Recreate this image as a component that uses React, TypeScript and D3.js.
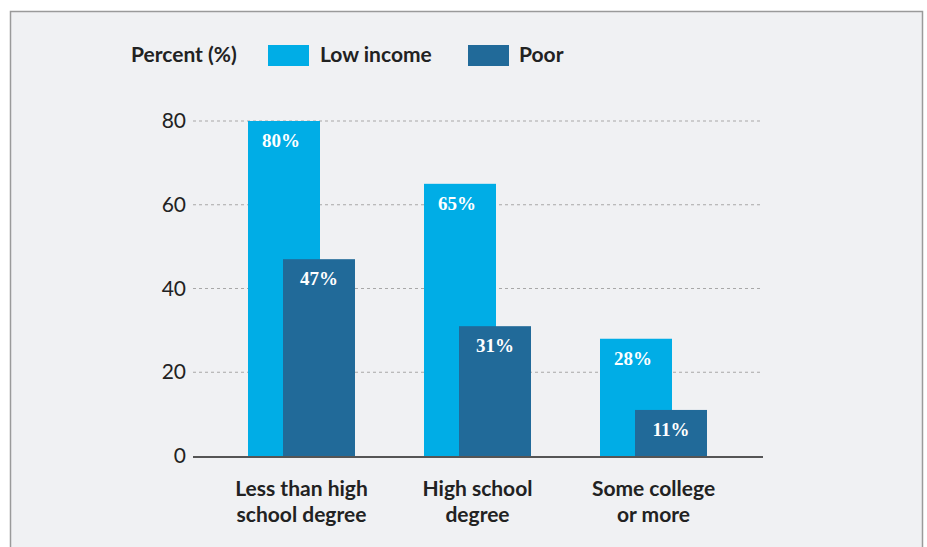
import React from "react";
import * as d3 from "d3";

const categories = [["Less than high", "school degree"], ["High school", "degree"], ["Some college", "or more"]];
const lowIncome = [80, 65, 28];
const poor = [47, 31, 11];
const yTicks = [0, 20, 40, 60, 80];
const seriesNames = ["Low income", "Poor"];

const W = 927;
const H = 547;
const LOW = "#00ADE6";
const POOR = "#216A99";

export default function App() {
  const y = d3.scaleLinear().domain([0, 80]).range([456, 121]);
  const x = d3.scalePoint<number>().domain([0, 1, 2]).range([301.5, 653.5]);
  const barW = 72;
  const off = 35;
  const font = "Lato, 'Open Sans', sans-serif";
  const serif = "'Liberation Serif', 'DejaVu Serif', serif";
  return (
    <svg width={W} height={H} style={{ position: "absolute", left: 0, top: 0, background: "#fff" }}>
      <rect x={10.5} y={11.5} width={912} height={H} fill="#F0F1F3" stroke="#9a9a9a" strokeWidth={1.5} />
      {/* legend */}
      <text x={131} y={62} fontFamily={font} fontWeight={700} fontSize={21} fill="#222">Percent (%)</text>
      <rect x={268} y={45} width={41} height={21} fill={LOW} />
      <text x={320} y={62} fontFamily={font} fontWeight={700} fontSize={21} fill="#222">{seriesNames[0]}</text>
      <rect x={468} y={45} width={41} height={21} fill={POOR} />
      <text x={519} y={62} fontFamily={font} fontWeight={700} fontSize={21} fill="#222">{seriesNames[1]}</text>
      {/* grid */}
      {yTicks.map((t) => (
        <g key={t}>
          {t > 0 && (
            <line x1={193} x2={763} y1={y(t)} y2={y(t)} stroke="#a8a8a8" strokeWidth={1.2} strokeDasharray="3,3" />
          )}
          <text x={186} y={y(t) + 7} textAnchor="end" fontFamily={font} fontSize={21} fill="#222">{t}</text>
        </g>
      ))}
      {/* bars */}
      {categories.map((c, i) => {
        const cx = x(i)!;
        const lx = cx - (barW + off) / 2;
        const px = lx + off;
        return (
          <g key={i}>
            <rect x={lx} y={y(lowIncome[i])} width={barW} height={y(0) - y(lowIncome[i])} fill={LOW} />
            <text x={lx + barW / 2 - 3} y={y(lowIncome[i]) + 26} textAnchor="middle" fontFamily={serif} fontWeight={700} fontSize={19} fill="#fff">{lowIncome[i]}%</text>
            <rect x={px} y={y(poor[i])} width={barW} height={y(0) - y(poor[i])} fill={POOR} />
            <text x={px + barW / 2} y={y(poor[i]) + 26} textAnchor="middle" fontFamily={serif} fontWeight={700} fontSize={19} fill="#fff">{poor[i]}%</text>
            {c.map((line, k) => (
              <text key={k} x={cx} y={496 + k * 26} textAnchor="middle" fontFamily={font} fontWeight={700} fontSize={21} fill="#222">{line}</text>
            ))}
          </g>
        );
      })}
      <line x1={193} x2={763} y1={y(0) + 1} y2={y(0) + 1} stroke="#555" strokeWidth={2} />
    </svg>
  );
}
